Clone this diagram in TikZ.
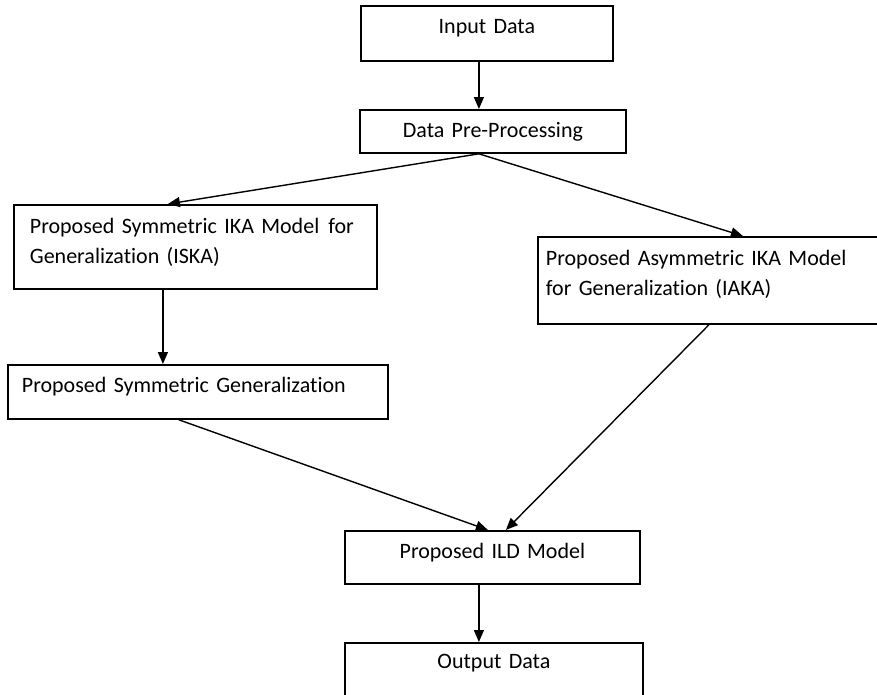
\documentclass[tikz,border=0pt]{standalone}
\usepackage{fontspec}
\setmainfont{Carlito}[Ligatures=NoCommon]
\usepackage{tikz}
\usetikzlibrary{arrows,arrows.meta,positioning,calc}
\tikzstyle{line} = [draw, line width=1.4pt, -{Triangle[length=12pt,width=10pt]}]
\tikzstyle{block} = [draw, rectangle, line width=1.8pt, anchor=north west, inner ysep=0pt, font=\fontsize{22}{30}\selectfont]

\begin{document}
\begin{tikzpicture}[x=1pt,y=-1pt]
		\useasboundingbox (0,0) rectangle (877,694);
		\clip (0,0) rectangle (877,694); % boxes at right and bottom are cut off
		
		% boxes, top to bottom
		\node[block, align=center, inner xsep=0pt, text width=252pt, text height=28pt, text depth=27pt] (input) at (360,5) {Input Data}; % input
		\node[block, align=center, inner xsep=0pt, text width=266pt, text height=28pt, text depth=15pt] (pre) at (359,109) {Data Pre-Processing}; % pre-processing
		\node[block, align=left, inner xsep=16pt, text width=331pt, text height=29pt, text depth=55pt] (iska) at (13,204) {\mbox{Proposed Symmetric IKA Model\hspace{9pt}for}\\Generalization (ISKA)}; % left model
		\node[block, align=left, inner xsep=8pt, text width=347pt, text height=29pt, text depth=58pt] (iaka) at (537,236) {Proposed Asymmetric IKA Model\\for Generalization (IAKA)}; % right model
		\node[block, align=left, inner xsep=14pt, text width=352pt, text height=28pt, text depth=26pt] (symgen) at (7,364) {Proposed Symmetric Generalization}; % generalization
		\node[block, align=center, inner xsep=0pt, text width=295pt, text height=28pt, text depth=25pt] (ild) at (344,530) {Proposed ILD Model}; % ILD
		\node[block, align=center, inner xsep=0pt, text width=298pt, text height=26pt, text depth=70pt] (output) at (344,642) {Output Data}; % output
		
		% arrows
		\draw[line] ([xshift=-8pt]input.south) -- ([xshift=-14pt]pre.north);
		\draw[line] ([xshift=-14pt]pre.south) -- ([xshift=-27.5pt]iska.north);
		\draw[line] ([xshift=-14pt]pre.south) -- ([xshift=23.5pt]iaka.north);
		\draw[line] ([xshift=-32.5pt]iska.south) -- ([xshift=-35pt]symgen.north);
		\draw[line] ([xshift=-19pt]symgen.south) -- ([xshift=-4.5pt]ild.north);
		\draw[line] ([xshift=-10.5pt]iaka.south) -- ([xshift=13.5pt]ild.north);
		\draw[line] ([xshift=-13.5pt]ild.south) -- ([xshift=-15pt]output.north);
		
\end{tikzpicture}
\end{document}
